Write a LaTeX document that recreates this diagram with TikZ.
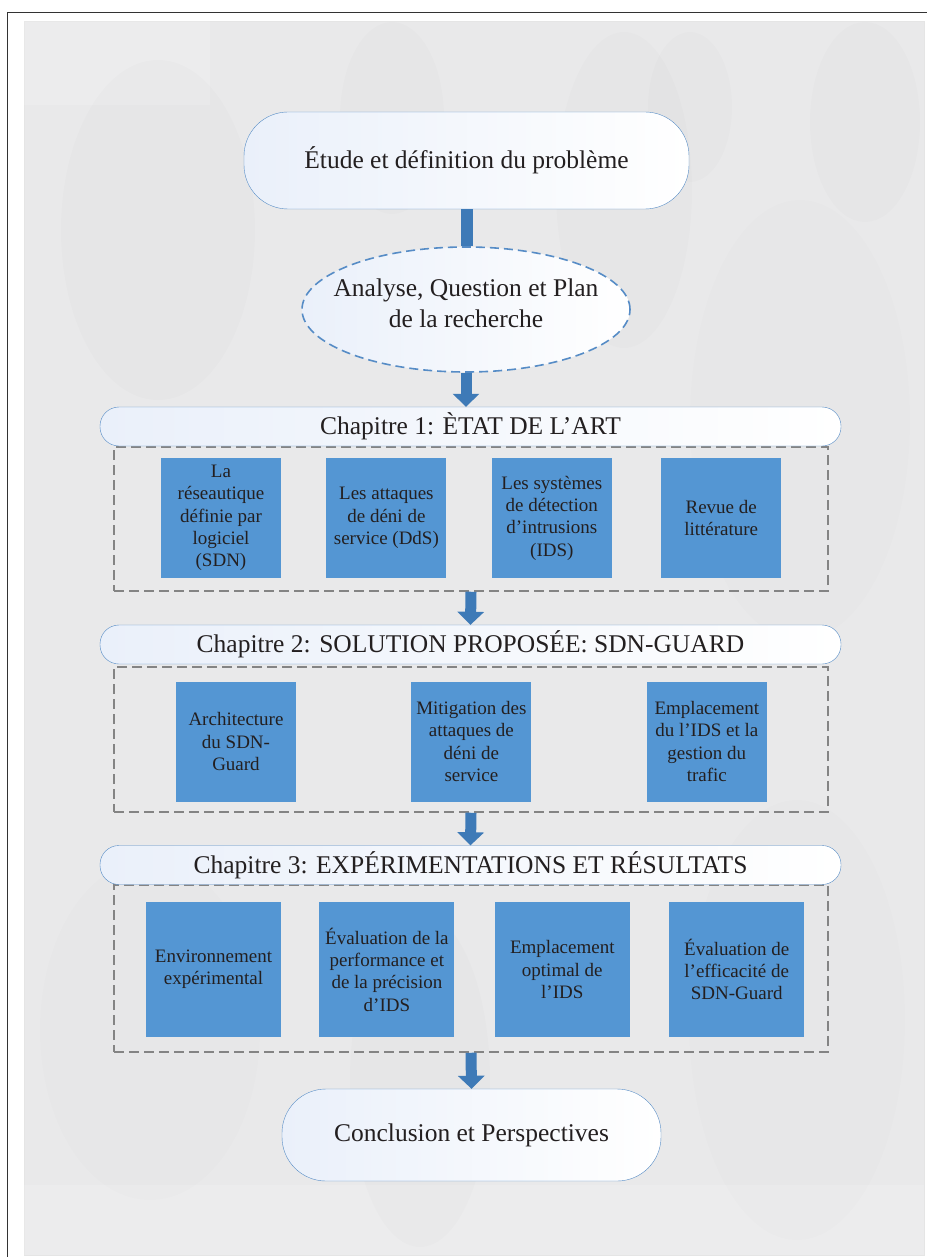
\documentclass[tikz,border=0pt]{standalone}
\usepackage{fontspec}
\setmainfont{Liberation Serif}
\usetikzlibrary{arrows.meta,positioning,shapes.geometric}
\definecolor{sgBlue}{RGB}{84,150,211}
\definecolor{sgLine}{RGB}{86,140,198}
\definecolor{sgArrow}{RGB}{62,122,183}
\definecolor{sgPale}{RGB}{234,240,250}
\definecolor{sgGray}{RGB}{132,132,132}
\definecolor{sgText}{RGB}{35,31,32}
\definecolor{sgPanel}{RGB}{233,233,234}
\newcommand{\hdfont}{\fontsize{25.5}{31}\selectfont}
\newcommand{\bxfont}{\fontsize{19}{22.3}\selectfont}

\begin{document}
\begin{tikzpicture}[x=1pt,y=-1pt,
      term/.style={draw=sgLine,rounded corners=44pt,left color=sgPale,right color=white,
                   text=sgText,font=\hdfont,minimum width=445pt,minimum height=97pt},
      hdr/.style={term,rounded corners=19pt,minimum width=741pt,minimum height=39pt},
      oval/.style={ellipse,draw=sgLine,line width=1.6pt,dash pattern=on 9pt off 5pt,left color=sgPale,
                   right color=white,minimum width=328pt,minimum height=125pt},
      frm/.style={draw=sgGray,line width=1.5pt,dash pattern=on 10pt off 5pt,minimum width=714pt},
      box/.style={fill=sgBlue,text=sgText,font=\bxfont,align=center,inner sep=1pt,
                  minimum width=120pt,minimum height=120pt},
      wide/.style={box,minimum width=135pt,minimum height=135pt},
      arr/.style={sgArrow,line width=11pt,-{Triangle[width=26pt,length=13pt]}}]
    \useasboundingbox (0,0) rectangle (927,1257);
    % page and background panel
    \draw[black!80,line width=1pt] (7,1257) -- (7,12.5) -- (927,12.5);
    \draw[fill=sgPanel,draw=black!10] (24,21) rectangle (924,1255);
    \begin{scope}
      \clip (24,21) rectangle (924,1255);
      \fill[white,opacity=0.15] (24,21) rectangle (210,105);
      \fill[white,opacity=0.15] (24,1185) rectangle (924,1255);
      \fill[black,opacity=0.01] (158,230) ellipse (97 and 170);
      \fill[black,opacity=0.01] (392,118) ellipse (52 and 96);
      \fill[black,opacity=0.01] (624,190) ellipse (68 and 158);
      \fill[black,opacity=0.01] (690,107) ellipse (42 and 75);
      \fill[black,opacity=0.01] (865,122) ellipse (55 and 100);
      \fill[black,opacity=0.008] (800,420) ellipse (110 and 220);
      \fill[black,opacity=0.008] (150,1030) ellipse (110 and 170);
      \fill[black,opacity=0.01] (420,1080) ellipse (70 and 167);
      \fill[black,opacity=0.008] (797,1020) ellipse (108 and 220);
    \end{scope}

    \node[term] (t) at (466.5,160.5) {Étude et définition du problème};
    \node[oval,label={[yshift=6pt,font=\hdfont,align=center,text=sgText]center:Analyse, Question et Plan\\de la recherche}] (q) at (466,309.5) {};

    % chapitre 1
    \node[frm,minimum height=144pt] (f1) at (471,519) {};
    \node[hdr] (h1) at (470.5,426.5) {Chapitre 1: ÈTAT DE L’ART};
    \node[box] (a1) at (221,518) {La\\réseautique\\définie par\\logiciel\\(SDN)};
    \node[box,right=45pt of a1] (a2) {Les attaques\\de déni de\\service (DdS)};
    \node[box,right=45pt of a2] (a3) {Les systèmes\\de détection\\d’intrusions\\(IDS)};
    \node[box,right=49pt of a3] (a4) {Revue de\\littérature};

    % chapitre 2
    \node[frm,minimum height=145pt] (f2) at (471,739.5) {};
    \node[hdr] (h2) at (470.5,644.5) {Chapitre 2: SOLUTION PROPOSÉE: SDN-GUARD};
    \node[box] (b1) at (236,741.5) {Architecture\\du SDN-\\Guard};
    \node[box,right=115pt of b1] (b2) {Mitigation des\\attaques de\\déni de\\service};
    \node[box,right=115pt of b2] (b3) {Emplacement\\du l’IDS et la\\gestion du\\trafic};

    % chapitre 3
    \node[frm,minimum height=167pt] (f3) at (471,968.5) {};
    \node[hdr] (h3) at (470.5,865) {Chapitre 3: EXPÉRIMENTATIONS ET RÉSULTATS};
    \node[wide] (c1) at (213.5,969.5) {Environnement\\expérimental};
    \node[wide,right=38pt of c1] (c2) {Évaluation de la\\performance et\\de la précision\\d’IDS};
    \node[wide,right=40pt of c2] (c3) {Emplacement\\optimal de\\l’IDS};
    \node[wide,right=39pt of c3] (c4) {Évaluation de\\l’efficacité de\\SDN-Guard};

    \node[term,minimum width=379pt,minimum height=92pt] (cp) at (471.5,1135) {Conclusion et Perspectives};

    \draw[sgArrow,line width=12pt] (t.south) -- (t.south |- q.north);
    \draw[arr] (q.south) -- (q.south |- h1.north);
    \draw[arr] (f1.south) -- (h2.north);
    \draw[arr] (f2.south) -- (h3.north);
    \draw[arr] (f3.south) -- (cp.north);
  \end{tikzpicture}
\end{document}
